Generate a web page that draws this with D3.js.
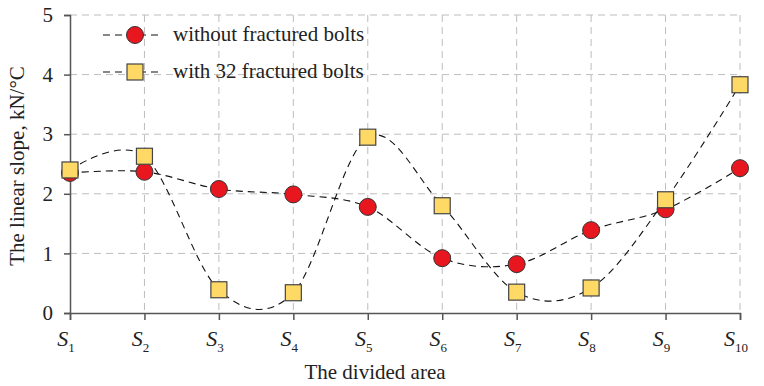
<!DOCTYPE html>
<html><head><meta charset="utf-8">
<script src="https://cdn.jsdelivr.net/npm/d3@7"></script>
<style>body{margin:0;background:#fff}svg{display:block}text{font-family:"Liberation Serif","Times New Roman",serif;fill:#222}</style>
</head><body><svg id="c" width="764" height="386"></svg>
<script>
const categories = ["1","2","3","4","5","6","7","8","9","10"];
const withoutFractured = [2.35, 2.37, 2.08, 1.99, 1.78, 0.92, 0.82, 1.39, 1.74, 2.43];
const with32Fractured = [2.40, 2.63, 0.39, 0.34, 2.95, 1.80, 0.35, 0.42, 1.90, 3.83];
const yTicks = [0,1,2,3,4,5];
const seriesNames = ["without fractured bolts", "with 32 fractured bolts"];

const svg = d3.select("#c");
const L=70, R=740, T=15, B=313;
const x = d3.scalePoint().domain(categories).range([L,R]);
const y = d3.scaleLinear().domain([0,5]).range([B,T]);

// grid
const g = svg.append("g");
g.selectAll(".hg").data(yTicks.filter(d=>d>0)).join("line")
 .attr("x1",L).attr("x2",R).attr("y1",d=>y(d)).attr("y2",d=>y(d))
 .attr("stroke","#bdbdbd").attr("stroke-width",1).attr("stroke-dasharray","7,5");
g.selectAll(".vg").data(categories.slice(1)).join("line")
 .attr("x1",d=>x(d)).attr("x2",d=>x(d)).attr("y1",T).attr("y2",B)
 .attr("stroke","#bdbdbd").attr("stroke-width",1).attr("stroke-dasharray","7,5");

// axes
const yAxis = svg.append("g").attr("transform",`translate(${L},0)`)
 .call(d3.axisLeft(y).tickValues(yTicks).tickSize(6).tickPadding(11).tickFormat(d3.format("d")));
yAxis.attr("font-family",null);
yAxis.select(".domain").attr("stroke","#555").attr("stroke-width",1.5);
yAxis.selectAll(".tick line").attr("stroke","#555").attr("stroke-width",1.5);
yAxis.selectAll(".tick text").attr("font-size",21).attr("fill","#222");

const xAxis = svg.append("g").attr("transform",`translate(0,${B})`)
 .call(d3.axisBottom(x).tickSize(7).tickFormat(""));
xAxis.select(".domain").attr("stroke","#555").attr("stroke-width",1.5);
xAxis.selectAll(".tick line").attr("stroke","#555").attr("stroke-width",1.5);

// S labels
const sl = svg.append("g").selectAll("text").data(categories).join("text")
 .attr("x",d=>x(d)-4).attr("y",346).attr("text-anchor","middle").attr("font-size",22);
sl.append("tspan").attr("font-style","italic").text("S");
sl.append("tspan").attr("font-size",13).attr("dy",6).text(d=>d);

// titles
svg.append("text").attr("x",375).attr("y",379).attr("text-anchor","middle").attr("font-size",21).text("The divided area");
svg.append("text").attr("transform","translate(24,166) rotate(-90)").attr("text-anchor","middle").attr("font-size",21).text("The linear slope, kN/°C");

// lines
const line = d3.line().x((d,i)=>x(categories[i])).y(d=>y(d)).curve(d3.curveCardinal.tension(0));
[withoutFractured, with32Fractured].forEach(s=>{
  svg.append("path").attr("d",line(s)).attr("fill","none").attr("stroke","#111").attr("stroke-width",1.1).attr("stroke-dasharray","7,5");
});

function circle(sel){ sel.attr("r",8.5).attr("fill","#e8161f").attr("stroke","#333").attr("stroke-width",1); }
function square(sel){ sel.attr("width",16).attr("height",16).attr("fill","#fed966").attr("stroke","#444").attr("stroke-width",1.2); }

svg.append("g").selectAll("circle").data(withoutFractured).join("circle")
 .attr("cx",(d,i)=>x(categories[i])).attr("cy",d=>y(d)).call(circle);
svg.append("g").selectAll("rect").data(with32Fractured).join("rect")
 .attr("x",(d,i)=>x(categories[i])-8).attr("y",d=>y(d)-8).call(square);

// legend
const leg = [{y:35, t:seriesNames[0], m:"c"},{y:72, t:seriesNames[1], m:"s"}];
leg.forEach(l=>{
  svg.append("line").attr("x1",103).attr("x2",162).attr("y1",l.y).attr("y2",l.y)
   .attr("stroke","#111").attr("stroke-width",1.1).attr("stroke-dasharray","7,5");
  if(l.m==="c") svg.append("circle").attr("cx",135).attr("cy",l.y).call(circle);
  else svg.append("rect").attr("x",127).attr("y",l.y-8).call(square);
  svg.append("text").attr("x",173).attr("y",l.y+6).attr("font-size",21).text(l.t);
});
</script></body></html>
